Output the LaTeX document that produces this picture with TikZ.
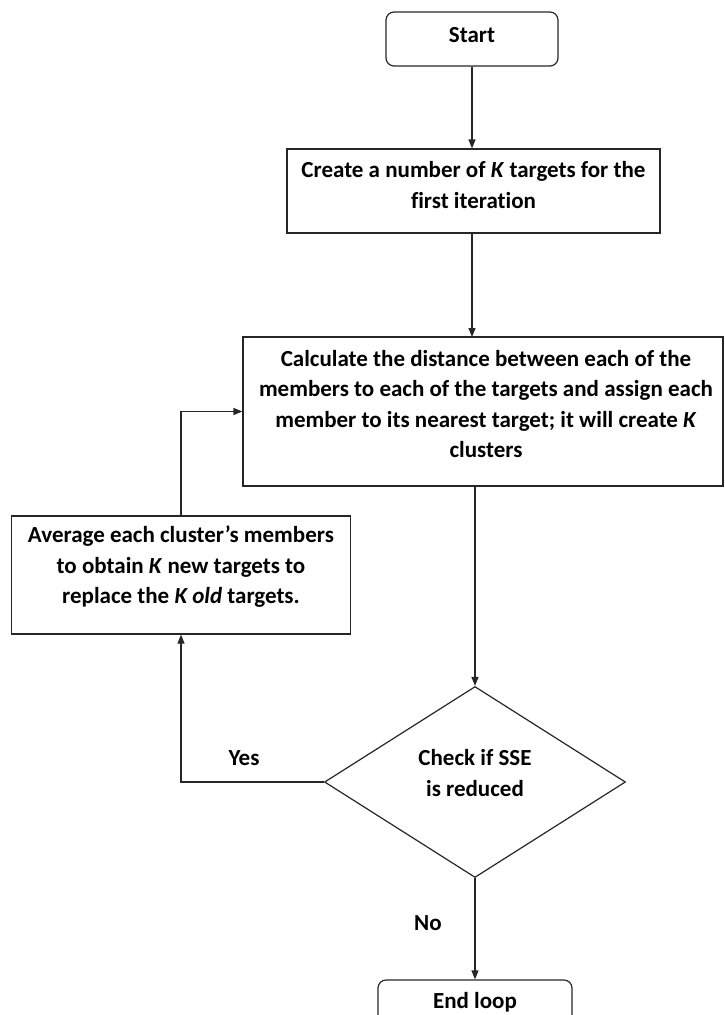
\documentclass[tikz,border=0pt]{standalone}
\usepackage{fontspec}
\setmainfont{Carlito}[Ligatures=NoCommon]
\usetikzlibrary{arrows.meta,shapes.geometric}
\begin{document}
\begin{tikzpicture}[x=1pt,y=-1pt,
  box/.style={draw=black!85,line width=1.2pt,inner sep=0pt,minimum width=#1},
  rbox/.style={box=#1,rounded corners=8pt},
  txt/.style={align=center,font=\fontsize{23}{30.5}\selectfont\bfseries,inner sep=0pt},
  arr/.style={draw=black!85,line width=1.2pt,-{Triangle[length=9pt,width=7pt]}},
  ln/.style={draw=black!85,line width=1.2pt}]
\useasboundingbox (0,0) rectangle (724,1015);
\clip (0,0) rectangle (724,1015);
% nodes
\node[rbox=172pt,minimum height=54pt] (start) at (472,39) {};
\node[txt] (startT) at (472,35) {Start};
\node[box=373pt,minimum height=84pt] (create) at (473.5,191) {};
\node[txt] (createT) at (473.5,185) {Create a number of \textit{K} targets for the\\first iteration};
\node[box=480pt,minimum height=149pt] (calc) at (483,411.5) {};
\node[txt] (calcT) at (486,404) {Calculate the distance between each of the\\members to each of the targets and assign each\\member to its nearest target; it will create \textit{K}\\clusters};
\node[box=339.5pt,minimum height=118pt] (avg) at (181,575) {};
\node[txt] (avgT) at (181,567) {Average each cluster’s members\\to obtain \textit{K} new targets to\\replace the \textit{K old} targets.};
\node[draw=black!85,line width=1.2pt,diamond,inner sep=0pt,minimum width=301pt,minimum height=191pt,aspect=1.58] (dia) at (475,782) {};
\node[txt] (diaT) at (475,773) {Check if SSE\\is reduced};
\node[rbox=194pt,minimum height=80pt] (endl) at (475,1020) {};
\node[txt] (endT) at (475,1002) {End loop};
\node[txt] (yes) at (244,758) {Yes};
\node[txt] (no) at (428,923) {No};
% connectors
\draw[arr] (start.south) -- (start.south |- create.north);
\draw[arr] (472,233) -- (472,337);
\draw[arr] (dia.north |- calc.south) -- (dia.north);
\draw[arr] (dia.west) -| (avg.south);
\draw[arr] (avg.north) |- (calc.west);
\draw[arr] (dia.south) -- (endl.north);
\end{tikzpicture}
\end{document}
